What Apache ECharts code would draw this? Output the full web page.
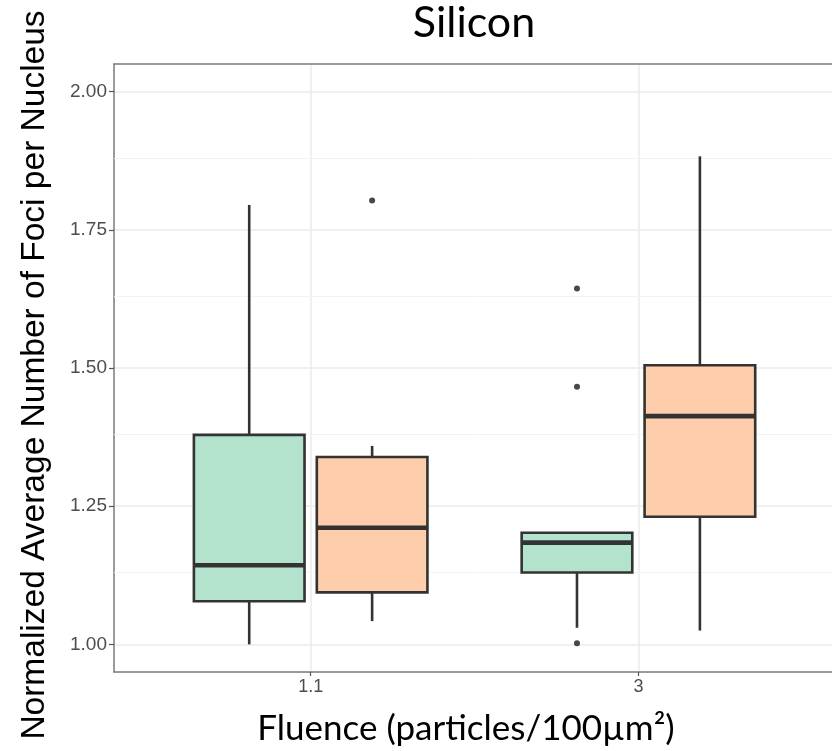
<!DOCTYPE html>
<html>
<head>
<meta charset="utf-8">
<script src="https://cdn.jsdelivr.net/npm/echarts@6/dist/echarts.min.js"></script>
<style>
  html, body { margin: 0; padding: 0; background: #ffffff; overflow: hidden; }
  #chart { width: 832px; height: 751px; }
</style>
</head>
<body>
<div id="chart"></div>
<script>
// Fluence groups on the x axis (placed at positions 1 and 2)
const fluenceLabels = ['1.1', '3'];
const fluencePositions = [1, 2];

// Five-number summaries per group: [min whisker, Q1, median, Q3, max whisker]
const greenStats = [
  [1.000, 1.078, 1.143, 1.379, 1.795],
  [1.030, 1.130, 1.184, 1.202, 1.202]
];
const orangeStats = [
  [1.042, 1.094, 1.211, 1.339, 1.359],
  [1.025, 1.231, 1.413, 1.505, 1.883]
];

// Outlying points: [group position, value]
const greenOutliers = [[2, 1.644], [2, 1.466], [2, 1.002]];
const orangeOutliers = [[1, 1.803]];

// Axis ticks
const yMajorTicks = [1.00, 1.25, 1.50, 1.75, 2.00];
const yMinorTicks = [1.125, 1.375, 1.625, 1.875];

const DODGE = 0.1875;     // half of the dodge width
const BOX_WIDTH = 0.3375; // box width in x units
const LINE_COLOR = '#333333';
const BORDER = { color: '#7a7a7a', width: 1.5 };

function boxRows(stats) {
  return stats.map((s, i) => [fluencePositions[i]].concat(s));
}

function makeBoxRenderer(offset, fill) {
  return function (params, api) {
    const x = api.value(0) + offset;
    const lo = api.coord([x, api.value(1)]);
    const q1 = api.coord([x, api.value(2)]);
    const med = api.coord([x, api.value(3)]);
    const q3 = api.coord([x, api.value(4)]);
    const hi = api.coord([x, api.value(5)]);
    const w = api.size([BOX_WIDTH, 0])[0];
    const cx = q1[0];
    const lineStyle = { stroke: LINE_COLOR, lineWidth: 2.6, fill: null };
    return {
      type: 'group',
      children: [
        { type: 'line', shape: { x1: cx, y1: q3[1], x2: cx, y2: hi[1] }, style: lineStyle },
        { type: 'line', shape: { x1: cx, y1: q1[1], x2: cx, y2: lo[1] }, style: lineStyle },
        {
          type: 'rect',
          shape: { x: cx - w / 2, y: q3[1], width: w, height: q1[1] - q3[1] },
          style: { fill: fill, stroke: LINE_COLOR, lineWidth: 2.6 }
        },
        {
          type: 'line',
          shape: { x1: cx - w / 2, y1: med[1], x2: cx + w / 2, y2: med[1] },
          style: { stroke: LINE_COLOR, lineWidth: 4.6 }
        }
      ]
    };
  };
}

const chart = echarts.init(document.getElementById('chart'), null, { renderer: 'canvas' });

// The panel runs past the right edge of the canvas, so its right side is not drawn.
chart.setOption({
  animation: false,
  backgroundColor: '#ffffff',
  title: {
    text: 'Silicon',
    left: 469,
    top: -3,
    textAlign: 'center',
    textStyle: { fontFamily: 'Lato', fontWeight: 'normal', fontSize: 43, color: '#000000' }
  },
  grid: {
    left: 114, top: 64, width: 786, height: 608,
    outerBoundsMode: 'none',
    containLabel: false,
    show: false
  },
  xAxis: [
    {
      type: 'value',
      min: 0.4,
      max: 2.798,
      position: 'bottom',
      name: 'Fluence (particles/100µm²)',
      // title centred under the visible part of the panel
      nameLocation: 'start',
      nameGap: -352,
      nameTextStyle: {
        fontFamily: 'Lato', fontSize: 35, color: '#000000',
        align: 'center', verticalAlign: 'top', padding: [39, 0, 0, 0]
      },
      axisLine: { show: true, onZero: false, lineStyle: BORDER },
      axisTick: { show: true, length: 4, customValues: fluencePositions, lineStyle: { color: '#555555', width: 1.2 } },
      axisLabel: {
        customValues: fluencePositions,
        formatter: v => fluenceLabels[fluencePositions.indexOf(v)],
        fontFamily: 'Liberation Sans', fontSize: 18, color: '#4d4d4d', margin: 6
      },
      splitLine: { show: true, lineStyle: { color: '#ebebeb', width: 1.5 } }
    },
    {
      // top edge of the panel
      type: 'value',
      min: 0.4,
      max: 2.798,
      position: 'top',
      axisLine: { show: true, onZero: false, lineStyle: BORDER },
      axisTick: { show: false },
      axisLabel: { show: false },
      splitLine: { show: false }
    }
  ],
  yAxis: {
    type: 'value',
    min: 0.95,
    max: 2.05,
    position: 'left',
    name: 'Normalized Average Number of Foci per Nucleus',
    nameLocation: 'middle',
    nameRotate: 90,
    nameGap: 62,
    nameTextStyle: { fontFamily: 'Liberation Sans', fontSize: 33.5, color: '#000000', padding: [0, 14, 0, 0] },
    axisLine: { show: true, onZero: false, lineStyle: BORDER },
    axisTick: { show: true, length: 5, customValues: yMajorTicks, lineStyle: { color: '#555555', width: 1.2 } },
    axisLabel: {
      customValues: yMajorTicks,
      formatter: v => v.toFixed(2),
      fontFamily: 'Liberation Sans', fontSize: 19, color: '#4d4d4d', margin: 7
    },
    splitLine: { show: true, lineStyle: { color: '#ebebeb', width: 1.5 } }
  },
  series: [
    {
      // minor horizontal grid lines
      name: 'minor grid',
      type: 'line',
      data: [],
      silent: true,
      z: 1,
      markLine: {
        z: 1,
        silent: true,
        symbol: ['none', 'none'],
        label: { show: false },
        lineStyle: { color: '#f3f3f3', width: 1, type: 'solid' },
        data: yMinorTicks.map(v => ({ yAxis: v }))
      }
    },
    {
      name: 'Series 1',
      type: 'custom',
      renderItem: makeBoxRenderer(-DODGE, '#b3e2cd'),
      encode: { x: 0, y: [1, 2, 3, 4, 5] },
      data: boxRows(greenStats),
      z: 3
    },
    {
      name: 'Series 2',
      type: 'custom',
      renderItem: makeBoxRenderer(DODGE, '#fdcdac'),
      encode: { x: 0, y: [1, 2, 3, 4, 5] },
      data: boxRows(orangeStats),
      z: 3
    },
    {
      name: 'Series 1 outliers',
      type: 'scatter',
      symbolSize: 6,
      itemStyle: { color: '#1a1a1a' },
      data: greenOutliers.map(p => [p[0] - DODGE, p[1]]),
      z: 4
    },
    {
      name: 'Series 2 outliers',
      type: 'scatter',
      symbolSize: 6,
      itemStyle: { color: '#1a1a1a' },
      data: orangeOutliers.map(p => [p[0] + DODGE, p[1]]),
      z: 4
    }
  ]
});
</script>
</body>
</html>
